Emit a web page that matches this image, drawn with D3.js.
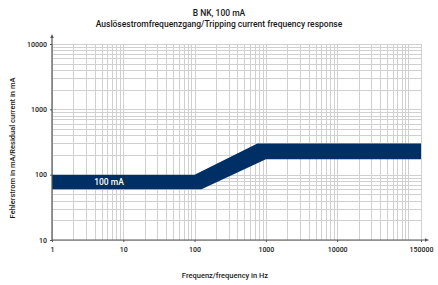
<!DOCTYPE html>
<html>
<head>
<meta charset="utf-8">
<script src="https://cdn.jsdelivr.net/npm/d3@7"></script>
<style>
  body { margin: 0; background: #fff; }
  text { font-family: "Roboto", "Liberation Sans", sans-serif; fill: #1a1a1a; font-weight: 500; }
</style>
</head>
<body>
<svg id="svg" width="438" height="285"></svg>
<script>
// tripping band: upper and lower limits (Hz, mA)
var upperFreq = [1, 100, 760, 150000];
var upperCurrent = [100, 100, 300, 300];
var lowerFreq = [1, 125, 1000, 150000];
var lowerCurrent = [60, 60, 172, 172];

var xTicks = [1, 10, 100, 1000, 10000, 150000];
var yTicks = [10, 100, 1000, 10000];

var title = "B NK, 100 mA";
var subtitle = "Auslösestromfrequenzgang/Tripping current frequency response";
var bandLabel = "100 mA";

var svg = d3.select("#svg"),
  margin = { top: 44, right: 17, bottom: 45, left: 52 },
  width = svg.attr("width") - margin.left - margin.right,
  height = svg.attr("height") - margin.top - margin.bottom,
  g = svg.append("g").attr("transform", "translate(" + margin.left + "," + margin.top + ")");

var x = d3.scaleLog().domain([1, 150000]).range([0, width]);
var y = d3.scaleLog().domain([10, 10000]).range([height, 0]);

// grid lines 1..9 per decade
var xGrid = [];
for (var d = 1; d <= 100000; d *= 10) {
  for (var m = 1; m <= 9; m++) {
    if (d * m <= 150000) xGrid.push(d * m);
  }
}
xGrid.push(150000);
var yGrid = [];
for (var d = 10; d < 10000; d *= 10) {
  for (var m = 1; m <= 9; m++) yGrid.push(d * m);
}
yGrid.push(10000);

g.append("g").selectAll("line").data(yGrid).enter().append("line")
  .attr("x1", 0).attr("x2", width)
  .attr("y1", function (d) { return Math.round(y(d)) + 0.5; })
  .attr("y2", function (d) { return Math.round(y(d)) + 0.5; })
  .attr("stroke", "#d0d0d0").attr("stroke-width", 1);

g.append("g").selectAll("line").data(xGrid).enter().append("line")
  .attr("y1", 0).attr("y2", height)
  .attr("x1", function (d) { return Math.round(x(d)) + 0.5; })
  .attr("x2", function (d) { return Math.round(x(d)) + 0.5; })
  .attr("stroke", "#d0d0d0").attr("stroke-width", 1);

// band
var upper = upperFreq.map(function (f, i) { return [f, upperCurrent[i]]; });
var lower = lowerFreq.map(function (f, i) { return [f, lowerCurrent[i]]; });
var bandPts = upper.concat(lower.slice().reverse());
var line = d3.line()
  .x(function (d) { return x(d[0]); })
  .y(function (d) { return y(d[1]); });

g.append("path")
  .attr("d", line(bandPts) + "Z")
  .attr("fill", "#002f66");

g.append("text")
  .attr("x", x(6.3)).attr("y", y(77))
  .attr("dy", "0.35em")
  .attr("text-anchor", "middle")
  .attr("font-size", 8.5)
  .style("fill", "#fff")
  .text(bandLabel);

// axes
g.append("g")
  .attr("transform", "translate(0," + height + ")")
  .call(d3.axisBottom(x).tickValues(xTicks).tickFormat(d3.format("d")).tickSize(2).tickPadding(5))
  .call(function (a) {
    a.select(".domain").remove();
    a.selectAll(".tick line").attr("stroke", "#555");
    a.selectAll("text").attr("font-size", 7).attr("font-family", null);
  });

g.append("g")
  .call(d3.axisLeft(y).tickValues(yTicks).tickFormat(d3.format("d")).tickSize(2).tickPadding(3))
  .call(function (a) {
    a.select(".domain").remove();
    a.selectAll(".tick line").attr("stroke", "#555");
    a.selectAll("text").attr("font-size", 7).attr("font-family", null);
  });

// axis lines with arrows
g.append("line").attr("x1", 0).attr("x2", 0).attr("y1", height).attr("y2", -8)
  .attr("stroke", "#555").attr("stroke-width", 1.2);
g.append("path").attr("d", "M-1.8,-6 L0,-10 L1.8,-6 Z").attr("fill", "#555");
g.append("line").attr("x1", 0).attr("x2", width + 6).attr("y1", height).attr("y2", height)
  .attr("stroke", "#555").attr("stroke-width", 1.2);
g.append("path").attr("d", "M" + (width + 4) + "," + (height - 1.8) + " L" + (width + 8) + "," + height + " L" + (width + 4) + "," + (height + 1.8) + " Z").attr("fill", "#555");

// titles
svg.append("text").attr("x", 219).attr("y", 16).attr("text-anchor", "middle")
  .attr("font-size", 8.5).text(title);
svg.append("text").attr("x", 219).attr("y", 27).attr("text-anchor", "middle")
  .attr("font-size", 8.5).text(subtitle);

svg.append("text").attr("x", 225).attr("y", 278).attr("text-anchor", "middle")
  .attr("font-size", 7.5).text("Frequenz/frequency in Hz");

svg.append("text")
  .attr("transform", "translate(15,148) rotate(-90)")
  .attr("text-anchor", "middle")
  .attr("font-size", 7.5)
  .text("Fehlerstrom in mA/Residual current in mA");
</script>
</body>
</html>
